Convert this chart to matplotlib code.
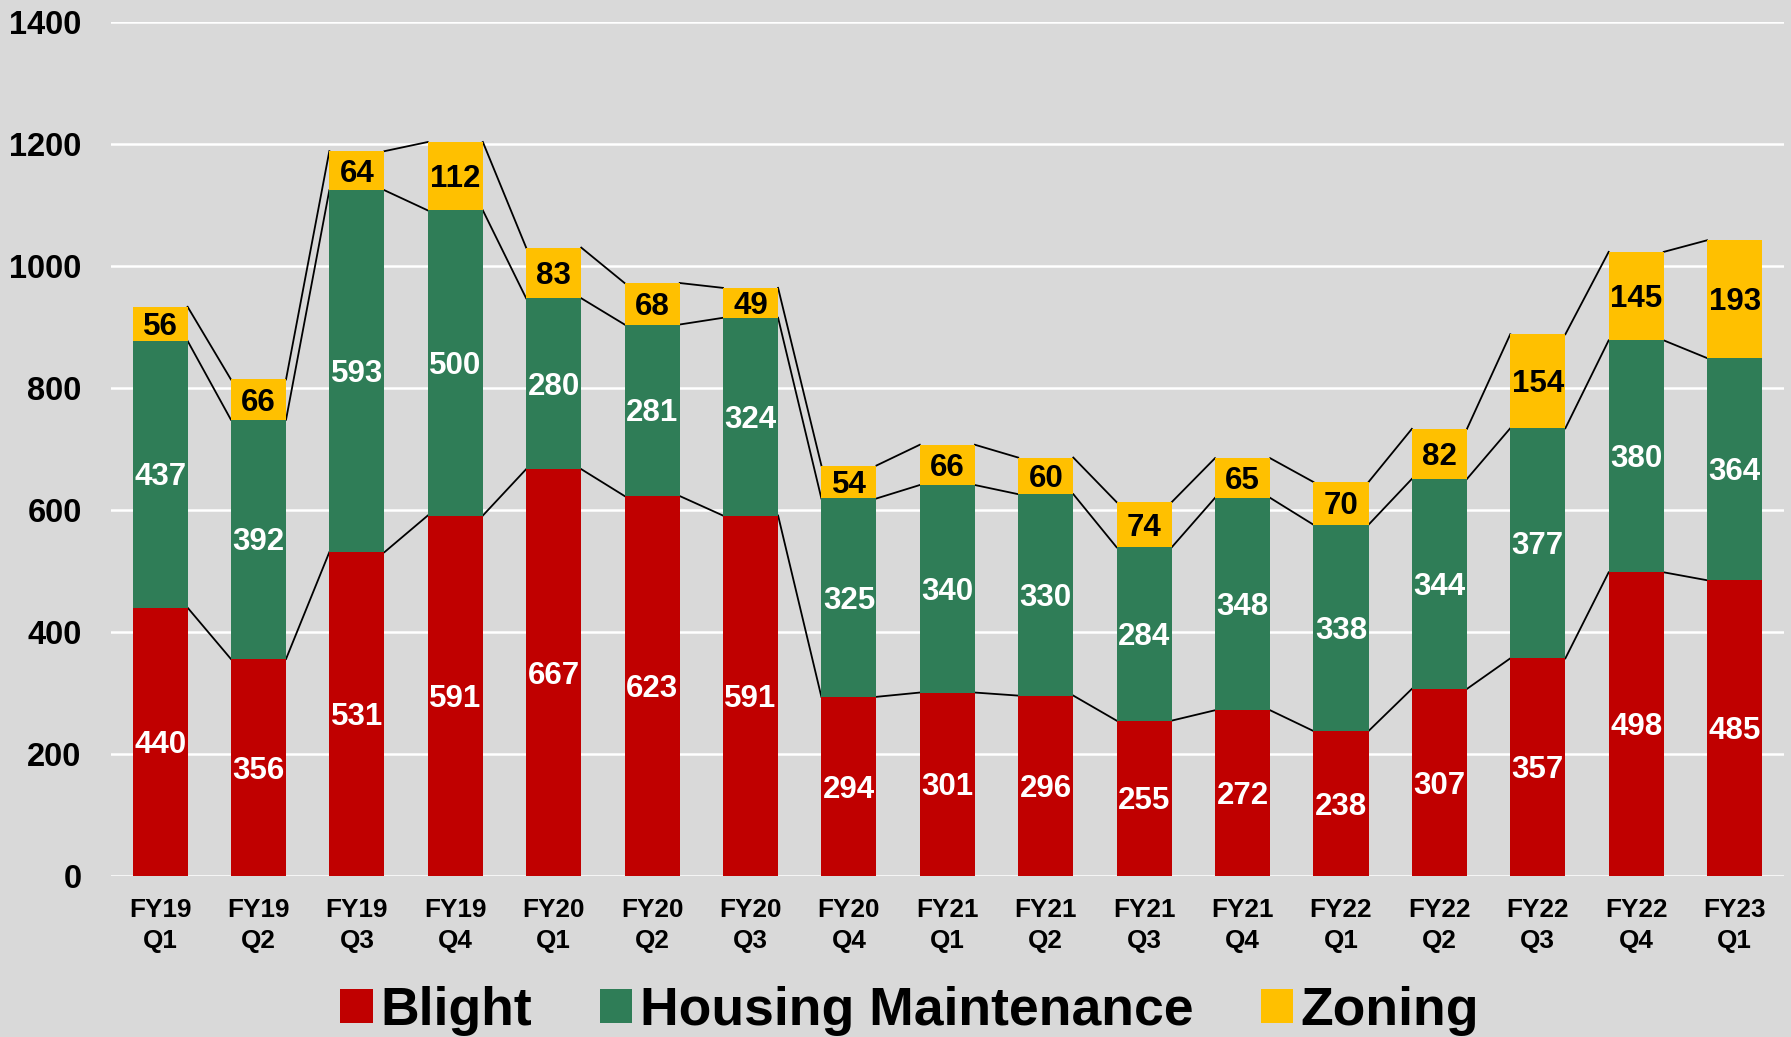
import numpy as np
import matplotlib.pyplot as plt
from matplotlib import transforms

plt.rcParams['font.family'] = ['Liberation Sans', 'DejaVu Sans']
plt.rcParams['font.weight'] = 'bold'

# data
quarters = ['FY19\nQ1', 'FY19\nQ2', 'FY19\nQ3', 'FY19\nQ4', 'FY20\nQ1', 'FY20\nQ2',
            'FY20\nQ3', 'FY20\nQ4', 'FY21\nQ1', 'FY21\nQ2', 'FY21\nQ3', 'FY21\nQ4',
            'FY22\nQ1', 'FY22\nQ2', 'FY22\nQ3', 'FY22\nQ4', 'FY23\nQ1']
blight = [440, 356, 531, 591, 667, 623, 591, 294, 301, 296, 255, 272, 238, 307, 357, 498, 485]
housing = [437, 392, 593, 500, 280, 281, 324, 325, 340, 330, 284, 348, 338, 344, 377, 380, 364]
zoning = [56, 66, 64, 112, 83, 68, 49, 54, 66, 60, 74, 65, 70, 82, 154, 145, 193]

series = [('Blight', blight, '#C00000', 'white'),
          ('Housing Maintenance', housing, '#2F7D57', 'white'),
          ('Zoning', zoning, '#FFC000', 'black')]

bg = '#D9D9D9'
fig = plt.figure(figsize=(17.91, 10.37), dpi=100, facecolor=bg)
ax = fig.add_axes([0.0619, 0.155, 0.9341, 0.824], facecolor=bg)

# nudge value labels down a couple of pixels
lbl_tr = ax.transData + transforms.ScaledTranslation(0, -3 / 100, fig.dpi_scale_trans)

x = np.arange(len(quarters))
w = 0.56
bottom = np.zeros(len(quarters))
for name, vals, col, tcol in series:
    vals = np.array(vals)
    ax.bar(x, vals, w, bottom=bottom, color=col, label=name, zorder=3)
    for xi, b, v in zip(x, bottom, vals):
        ax.text(xi, b + v / 2, str(v), ha='center', va='center', transform=lbl_tr,
                color=tcol, fontsize=22.5, fontweight='bold', zorder=4)
    bottom = bottom + vals
    # series lines between bars
    for i in range(len(x) - 1):
        ax.plot([x[i] + w / 2, x[i + 1] - w / 2], [bottom[i], bottom[i + 1]],
                color='black', lw=1.3, zorder=2)

ax.set_ylim(0, 1400)
ax.set_xlim(-0.5, len(quarters) - 0.5)
ax.set_yticks(range(0, 1401, 200))
ax.set_xticks(x)
ax.set_xticklabels(quarters, fontsize=18.8, fontweight='bold', linespacing=1.35)
ax.tick_params(axis='y', labelsize=23.5, length=0, pad=21)
ax.tick_params(axis='x', length=0, pad=16)
ax.yaxis.grid(True, color='white', lw=1.8, zorder=0)
ax.set_axisbelow(True)
for s in ax.spines.values():
    s.set_visible(False)

fig.legend(loc='center', bbox_to_anchor=(0.508, 0.025), ncol=3, frameon=False,
           handlelength=0.6, handleheight=0.6, handletextpad=0.15,
           columnspacing=1.26, prop={'weight': 'bold', 'size': 38.5})

fig.savefig('out.png', dpi=100, facecolor=bg)
